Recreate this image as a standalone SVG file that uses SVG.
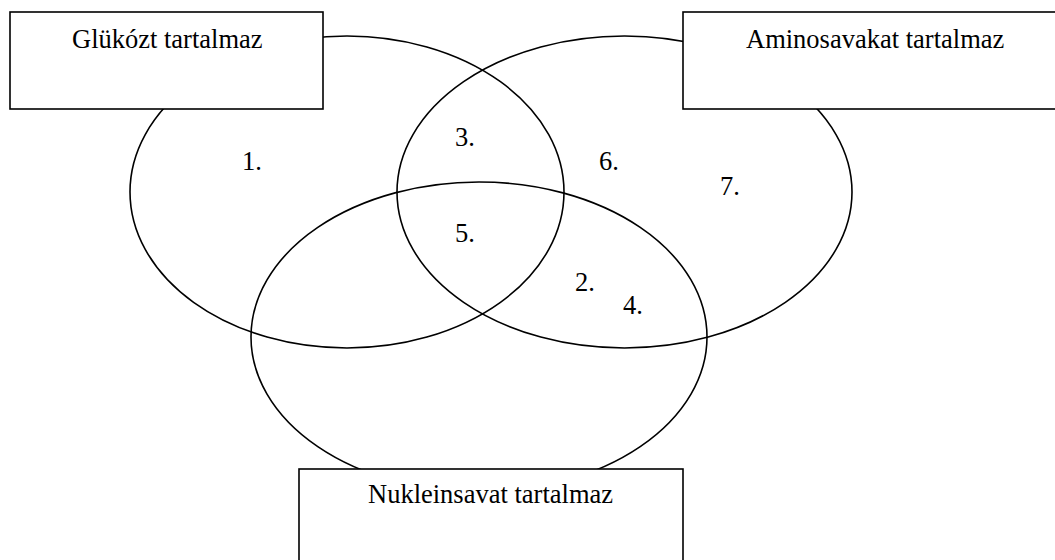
<svg xmlns="http://www.w3.org/2000/svg" width="1055" height="560" viewBox="0 0 1055 560">
<style>
.c{fill:none;stroke:#000;stroke-width:1.6}
.b{fill:#fff;stroke:#000;stroke-width:1.6}
.t{font-family:"Liberation Serif","Times New Roman",serif;font-size:26.5px;fill:#000}
</style>
<rect width="1055" height="560" fill="#fff"/>
<g id="sets">
<ellipse id="set-glukoz" class="c" cx="347" cy="192" rx="217" ry="156"/>
<ellipse id="set-amino" class="c" cx="624.5" cy="192" rx="227.5" ry="156"/>
<ellipse id="set-nuklein" class="c" cx="479" cy="337" rx="228" ry="155"/>
</g>
<g id="box-glukoz">
<rect class="b" x="10" y="12" width="313" height="97"/>
<text class="t" x="72" y="48">Glükózt tartalmaz</text>
</g>
<g id="box-amino">
<rect class="b" x="683" y="12" width="390" height="97"/>
<text class="t" x="746" y="48">Aminosavakat tartalmaz</text>
</g>
<g id="box-nuklein">
<rect class="b" x="299" y="469" width="384" height="110"/>
<text class="t" x="368" y="503">Nukleinsavat tartalmaz</text>
</g>
<g id="numbers">
<text class="t" x="242" y="170">1.</text>
<text class="t" x="575" y="291">2.</text>
<text class="t" x="455" y="146">3.</text>
<text class="t" x="623" y="314">4.</text>
<text class="t" x="455" y="242">5.</text>
<text class="t" x="599" y="170">6.</text>
<text class="t" x="720" y="195">7.</text>
</g>
</svg>
